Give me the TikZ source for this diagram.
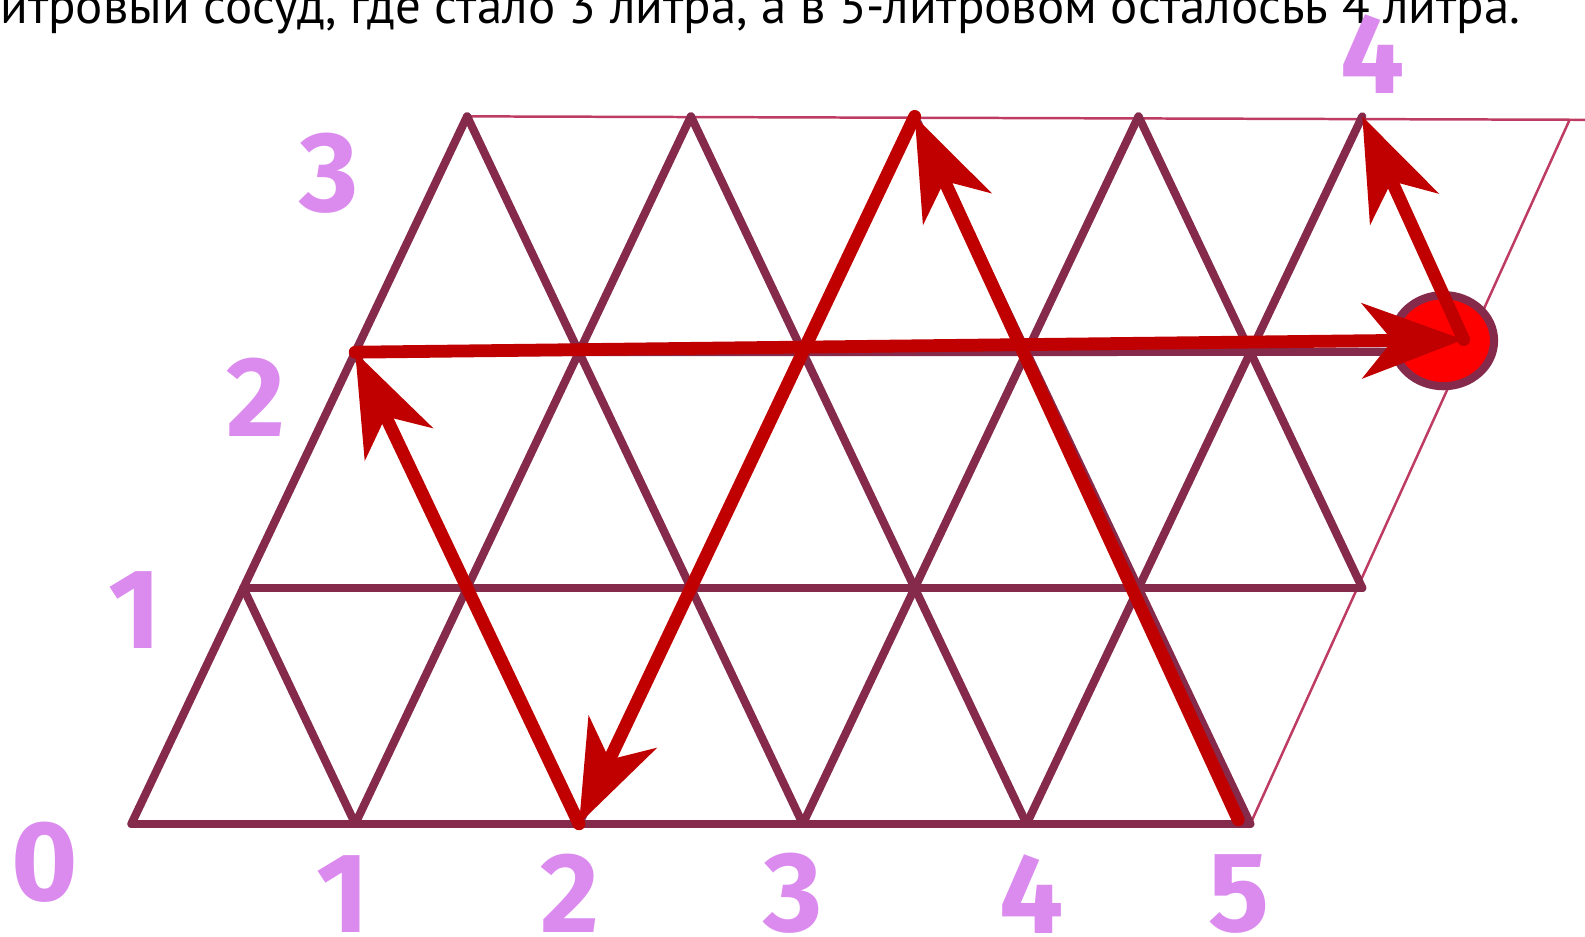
\documentclass[tikz,border=0pt]{standalone}
\usepackage{graphicx}
\usepackage{fontspec}
\setmainfont{PT Sans}
\newfontfamily\digitfont{Fira Sans}
\usetikzlibrary{arrows.meta,shapes.geometric}
\definecolor{gridc}{RGB}{133,42,74}
\definecolor{thinc}{RGB}{190,60,100}
\definecolor{arrc}{RGB}{192,0,0}
\definecolor{labc}{RGB}{219,139,238}
\begin{document}
\begin{tikzpicture}[x=0.01cm,y=-0.01cm,
  gridline/.style={draw=gridc,line width=2.3pt,line cap=round},
  thinline/.style={draw=thinc,line width=0.7pt},
  moveline/.style={draw=arrc,line width=3.6pt,line cap=round,
    -{Stealth[length=28.5pt,width=21pt,inset=8.5pt]}},
  numlabel/.style={text=labc,font=\digitfont\bfseries\fontsize{32}{32}\selectfont,inner sep=0pt}
]
\useasboundingbox (0,0) rectangle (1568,926);
\foreach \a in {0,...,5}{
  \foreach \b in {0,...,3}{
    \coordinate (p\a\b) at ({130+221.4*\a+110.7*\b},{815-233.3*\b});
  }
}
\coordinate (rowtwoend) at (1440,348);
\coordinate (topright) at (1570,118.5);
\coordinate (sideright) at (1553,118);
\coordinate (startfive) at (1225,811);
\coordinate (fivetwo) at (1448,336);

% thin outline of the parallelogram
\draw[thinline] (p03) -- (topright);
\draw[thinline] (p50) -- (sideright);

% grid
\draw[gridline] (p00) -- (p50);
\draw[gridline] (p01) -- (p51);
\draw[gridline] (p02) -- (rowtwoend);
\foreach \a in {0,...,4}{ \draw[gridline] (p\a0) -- (p\a3); }
\draw[gridline] (p01) -- (p10);
\draw[gridline] (p02) -- (p20);
\draw[gridline] (p03) -- (p30);
\draw[gridline] (p13) -- (p40);
\draw[gridline] (p23) -- (p50);
\draw[gridline] (p33) -- (p51);

% target state
\node[ellipse,draw=gridc,fill=red,line width=2.3pt,minimum width=1.0cm,minimum height=0.9cm,inner sep=0pt] (goal) at (1428,337) {};

% moves
\draw[moveline] (startfive) -- (p23);
\draw[moveline] (p23) -- (p20);
\draw[moveline] (p20) -- (p02);
\draw[moveline] (p02) -- (fivetwo);
\draw[moveline] (fivetwo) -- (p43);

% caption
\node[anchor=base east,inner sep=0pt] (caption) at (1505,23)
  {\resizebox{15.03cm}{!}{итровый сосуд, где стало 3 литра, а в 5-литровом осталосьь 4 литра.}};

% labels
\node[numlabel] (a0) at (44,853) {0};
\node[numlabel] (a1) at (339,884) {1};
\node[numlabel] (a2) at (564,884) {2};
\node[numlabel] (a3) at (785,884) {3};
\node[numlabel] (a4) at (1021,884) {4};
\node[numlabel] (a5) at (1226,884) {5};
\node[numlabel] (b1) at (133,603) {1};
\node[numlabel] (b2) at (253,393) {2};
\node[numlabel] (b3) at (326,171) {3};
\node[numlabel] (b4) at (1358,53) {4};
\end{tikzpicture}
\end{document}
